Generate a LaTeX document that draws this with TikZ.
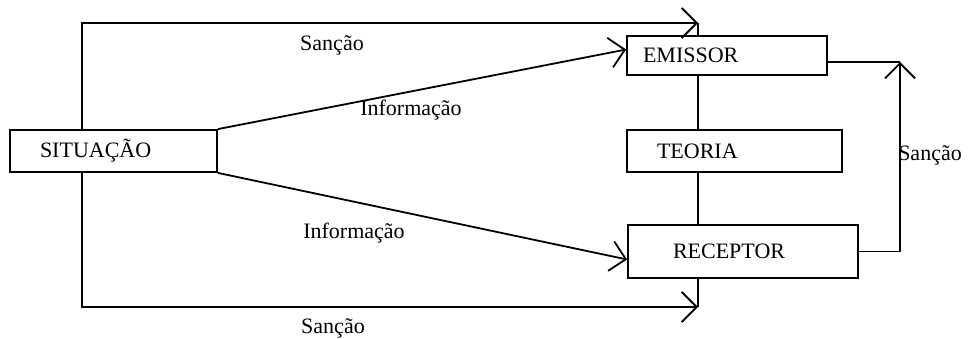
\documentclass[tikz,border=0pt]{standalone}
\usepackage{fontspec}
\setmainfont{Liberation Serif}
\usetikzlibrary{arrows.meta,positioning}

\begin{document}
\begin{tikzpicture}[x=0.5pt, y=-0.5pt,
      box/.style={draw, fill=white, line width=0.9pt, align=left,
                  font=\fontsize{11}{13}\selectfont, inner ysep=0pt},
      lbl/.style={font=\fontsize{11}{13}\selectfont, inner sep=1pt},
      arr/.style={-{Straight Barb[length=7.5pt, width=15pt]}, line width=0.9pt},
      ln/.style={line width=0.9pt}
  ]
    \useasboundingbox (0,0) rectangle (968,338);
    \node[box, minimum height=21pt, inner xsep=15pt, text width=73.5pt] (sit) at (113.5,151) {SITUAÇÃO};
    \node[box, minimum height=19.5pt, inner xsep=8pt, text width=84pt] (emi) at (727,55.5) {EMISSOR};
    \node[box, minimum height=21pt, inner xsep=15pt, text width=77.5pt] (teo) at (734.5,151) {TEORIA};
    \node[box, minimum height=26.5pt, inner xsep=22.5pt, text width=70pt] (rec) at (743,251.5) {RECEPTOR};
    \coordinate (topT) at (698,23);
    \coordinate (botT) at (698,307);
    \coordinate (sanR) at (900,62);
    \draw[arr] ([xshift=36.5pt]sit.north west) |- (topT);
    \draw[arr] ([xshift=36.5pt]sit.south west) |- (botT);
    \draw[ln] (topT) -- (emi.north -| topT);
    \draw[ln] (emi.south -| topT) -- (teo.north -| topT);
    \draw[ln] (teo.south -| topT) -- (rec.north -| topT);
    \draw[ln] (rec.south -| topT) -- (botT);
    \draw[arr] (sit.north east) -- ([yshift=3pt]emi.west);
    \draw[arr] (sit.south east) -- ([yshift=-4pt]rec.west);
    \draw[arr] (rec.east) -| (sanR);
    \draw[ln] (emi.east |- sanR) -- (sanR);
    \node[lbl] (sanTop) at (332,45) {Sanção};
    \node[lbl] (infoTop) at (411,110) {Informação};
    \node[lbl] (infoBot) at (354,233) {Informação};
    \node[lbl] (sanBot) at (333,328) {Sanção};
    \node[lbl] (sanRgt) at (930,155) {Sanção};
  \end{tikzpicture}
\end{document}
